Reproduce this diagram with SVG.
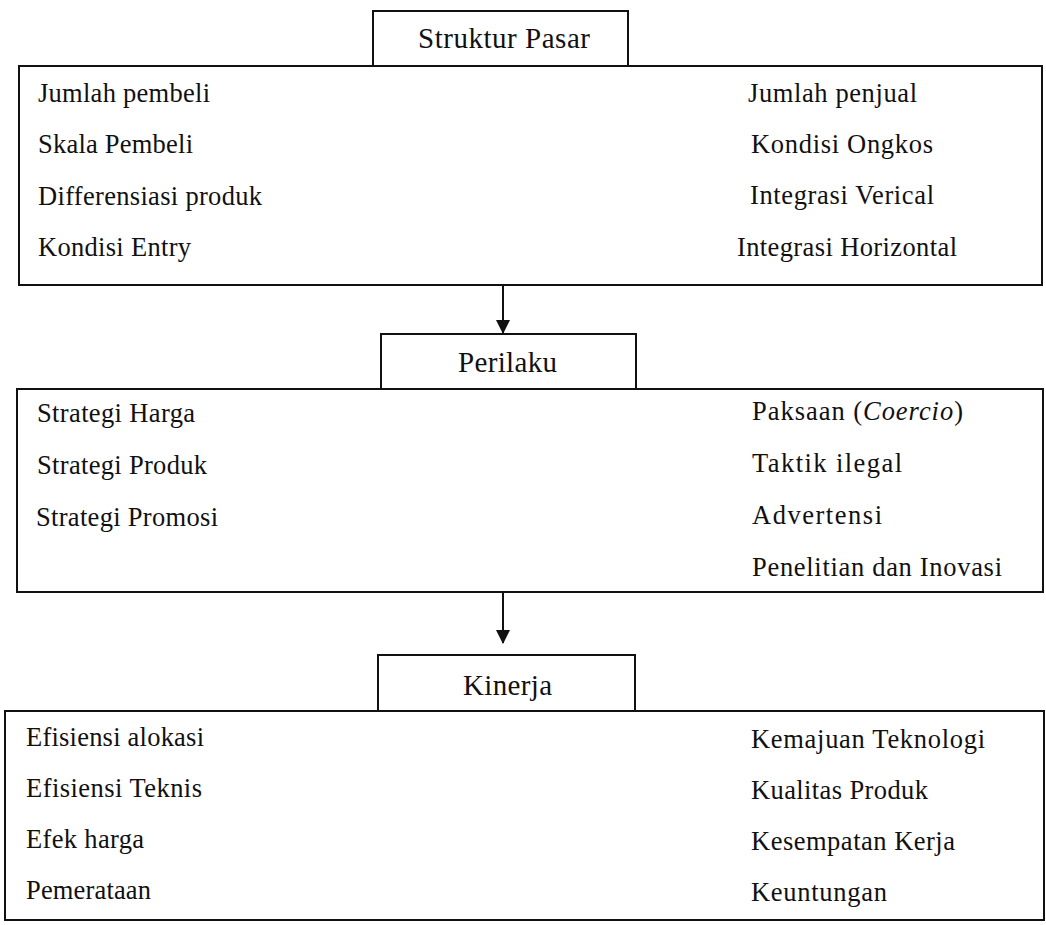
<svg xmlns="http://www.w3.org/2000/svg" width="1046" height="925" viewBox="0 0 1046 925">
<style>
.box{fill:none;stroke:#111;stroke-width:2}
.t{font-family:"Liberation Serif","Times New Roman",serif;font-size:26.5px;fill:#111}
.h{font-family:"Liberation Serif","Times New Roman",serif;font-size:29px;fill:#111}
.c{stroke:#111;stroke-width:2;fill:none}
</style>
<defs>
<marker id="ah" markerWidth="14" markerHeight="14" refX="13" refY="7" orient="auto" markerUnits="userSpaceOnUse">
<path d="M0,0 L14,7 L0,14 Z" fill="#111"/>
</marker>
</defs>
<rect width="1046" height="925" fill="#fff"/>
<g id="struktur-pasar">
<rect class="box" x="373" y="11" width="255" height="55"/>
<text class="h" x="418" y="48" textLength="172" lengthAdjust="spacing">Struktur Pasar</text>
</g>
<g id="struktur-detail">
<rect class="box" x="19" y="66" width="1023" height="219"/>
<text class="t" x="38" y="102" textLength="172" lengthAdjust="spacing">Jumlah pembeli</text>
<text class="t" x="38" y="153" textLength="155" lengthAdjust="spacing">Skala Pembeli</text>
<text class="t" x="38" y="205" textLength="224" lengthAdjust="spacing">Differensiasi produk</text>
<text class="t" x="38" y="256" textLength="153" lengthAdjust="spacing">Kondisi Entry</text>
<text class="t" x="748" y="102" textLength="169" lengthAdjust="spacing">Jumlah penjual</text>
<text class="t" x="751" y="153" textLength="182" lengthAdjust="spacing">Kondisi Ongkos</text>
<text class="t" x="750" y="204" textLength="184" lengthAdjust="spacing">Integrasi Verical</text>
<text class="t" x="737" y="256" textLength="220" lengthAdjust="spacing">Integrasi Horizontal</text>
</g>
<g id="perilaku">
<rect class="box" x="381" y="334" width="255" height="55"/>
<text class="h" x="458" y="372" textLength="99" lengthAdjust="spacing">Perilaku</text>
</g>
<g id="perilaku-detail">
<rect class="box" x="17" y="389" width="1026" height="203"/>
<text class="t" x="37" y="422" textLength="158" lengthAdjust="spacing">Strategi Harga</text>
<text class="t" x="37" y="474" textLength="170" lengthAdjust="spacing">Strategi Produk</text>
<text class="t" x="36" y="526" textLength="182" lengthAdjust="spacing">Strategi Promosi</text>
<text class="t" x="752" y="420" textLength="211" lengthAdjust="spacing">Paksaan (<tspan font-style="italic">Coercio</tspan>)</text>
<text class="t" x="752" y="472" textLength="150" lengthAdjust="spacing">Taktik ilegal</text>
<text class="t" x="752" y="524" textLength="130" lengthAdjust="spacing">Advertensi</text>
<text class="t" x="752" y="576" textLength="250" lengthAdjust="spacing">Penelitian dan Inovasi</text>
</g>
<g id="kinerja">
<rect class="box" x="378" y="655" width="257" height="56"/>
<text class="h" x="463" y="695" textLength="89" lengthAdjust="spacing">Kinerja</text>
</g>
<g id="kinerja-detail">
<rect class="box" x="5" y="711" width="1039" height="209"/>
<text class="t" x="26" y="746" textLength="178" lengthAdjust="spacing">Efisiensi alokasi</text>
<text class="t" x="26" y="797" textLength="176" lengthAdjust="spacing">Efisiensi Teknis</text>
<text class="t" x="26" y="848" textLength="118" lengthAdjust="spacing">Efek harga</text>
<text class="t" x="26" y="899" textLength="125" lengthAdjust="spacing">Pemerataan</text>
<text class="t" x="751" y="748" textLength="234" lengthAdjust="spacing">Kemajuan Teknologi</text>
<text class="t" x="751" y="799" textLength="177" lengthAdjust="spacing">Kualitas Produk</text>
<text class="t" x="751" y="850" textLength="204" lengthAdjust="spacing">Kesempatan Kerja</text>
<text class="t" x="751" y="901" textLength="136" lengthAdjust="spacing">Keuntungan</text>
</g>
<g id="connectors">
<line class="c" x1="503" y1="285" x2="503" y2="333" marker-end="url(#ah)"/>
<line class="c" x1="503" y1="592" x2="503" y2="643" marker-end="url(#ah)"/>
</g>
</svg>
